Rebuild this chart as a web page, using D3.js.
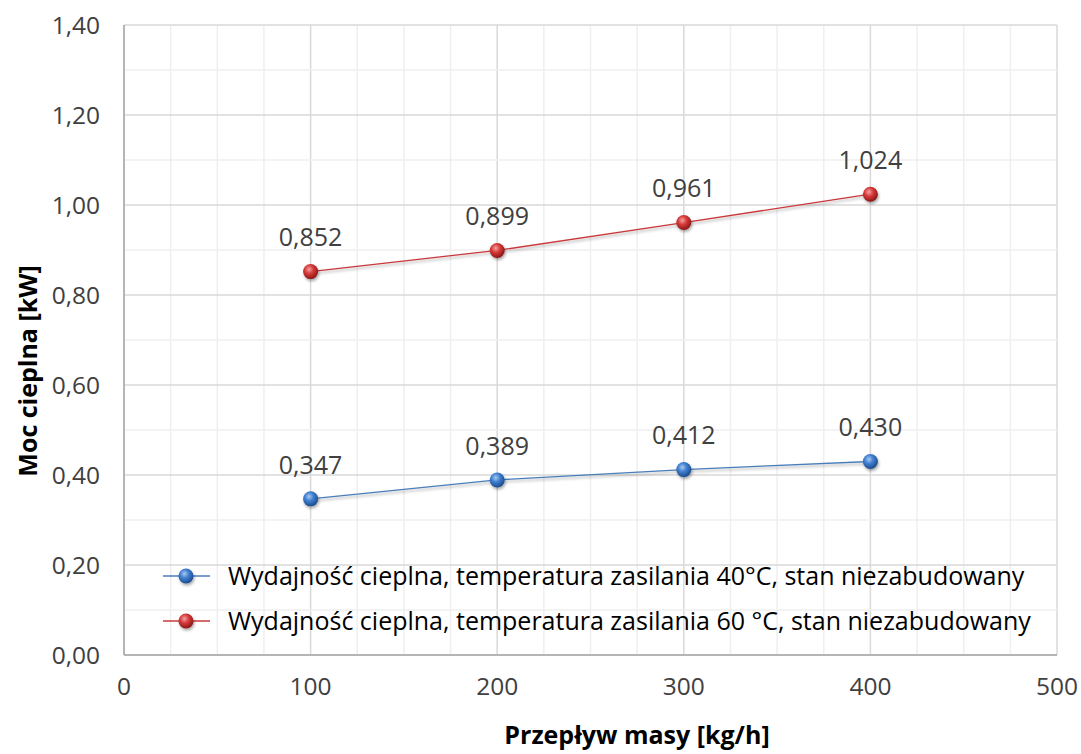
<!DOCTYPE html>
<html><head><meta charset="utf-8">
<script src="https://cdn.jsdelivr.net/npm/d3@7"></script>
<style>
body{margin:0;background:#fff;}
svg{display:block;font-family:"Open Sans","Noto Sans",sans-serif;}
</style></head>
<body><svg id="c" width="1081" height="754"></svg>
<script>
const xValues = [100, 200, 300, 400];
const series40 = [0.347, 0.389, 0.412, 0.430];
const series60 = [0.852, 0.899, 0.961, 1.024];
const seriesNames = [
  "Wydajność cieplna, temperatura zasilania 40°C, stan niezabudowany",
  "Wydajność cieplna, temperatura zasilania 60 °C, stan niezabudowany"
];
const xTicks = [0, 100, 200, 300, 400, 500];
const yTicks = [0, 0.2, 0.4, 0.6, 0.8, 1.0, 1.2, 1.4];
const xTitle = "Przepływ masy [kg/h]";
const yTitle = "Moc cieplna [kW]";

const svg = d3.select("#c");
const L = 124, R = 1057, T = 25, B = 655;
const x = d3.scaleLinear().domain([0, 500]).range([L, R]);
const y = d3.scaleLinear().domain([0, 1.4]).range([B, T]);
const fmt = d => d3.format(".2f")(d).replace(".", ",");
const fmt3 = d => d3.format(".3f")(d).replace(".", ",");

const defs = svg.append("defs");
function grad(id, light, mid, dark) {
  const g = defs.append("radialGradient").attr("id", id).attr("cx", "40%").attr("cy", "35%").attr("r", "65%");
  g.append("stop").attr("offset", "0%").attr("stop-color", light);
  g.append("stop").attr("offset", "45%").attr("stop-color", mid);
  g.append("stop").attr("offset", "100%").attr("stop-color", dark);
}
grad("gb", "#a9c8f0", "#3f7fd0", "#1d4c8c");
grad("gr", "#f5a0a0", "#d63a3a", "#8c1717");
const sh = defs.append("filter").attr("id", "sh").attr("x", "-20%").attr("y", "-50%").attr("width", "140%").attr("height", "200%");
sh.append("feGaussianBlur").attr("in", "SourceAlpha").attr("stdDeviation", 1.5);
sh.append("feOffset").attr("dx", 1).attr("dy", 2).attr("result", "b");
sh.append("feComponentTransfer").append("feFuncA").attr("type", "linear").attr("slope", 0.35);
const mg = sh.append("feMerge"); mg.append("feMergeNode"); mg.append("feMergeNode").attr("in", "SourceGraphic");

// grid
const minorX = d3.range(0, 501, 25), minorY = d3.range(0, 1.401, 0.1);
svg.append("g").selectAll("line").data(minorX).join("line")
  .attr("x1", d => x(d)).attr("x2", d => x(d)).attr("y1", T).attr("y2", B)
  .attr("stroke", d => d % 100 === 0 ? "#d9d9d9" : "#efefef").attr("stroke-width", 1.5);
svg.append("g").selectAll("line").data(minorY).join("line")
  .attr("x1", L).attr("x2", R).attr("y1", d => y(d)).attr("y2", d => y(d))
  .attr("stroke", (d, i) => i % 2 === 0 ? "#d9d9d9" : "#efefef").attr("stroke-width", 1.5);
// axes lines
svg.append("line").attr("x1", L).attr("x2", L).attr("y1", T).attr("y2", B).attr("stroke", "#a6a6a6").attr("stroke-width", 1.5);
svg.append("line").attr("x1", L).attr("x2", R).attr("y1", B).attr("y2", B).attr("stroke", "#a6a6a6").attr("stroke-width", 1.5);

// tick labels
svg.append("g").selectAll("text").data(yTicks).join("text")
  .attr("x", 100).attr("y", d => y(d)).attr("dy", "0.35em").attr("text-anchor", "end")
  .attr("font-size", 24.5).attr("fill", "#404040").text(fmt);
svg.append("g").selectAll("text").data(xTicks).join("text")
  .attr("x", d => x(d)).attr("y", 686).attr("dy", "0.35em").attr("text-anchor", "middle")
  .attr("font-size", 24.5).attr("fill", "#404040").text(d => d);

// titles
svg.append("text").attr("x", 637).attr("y", 744).attr("text-anchor", "middle")
  .attr("font-size", 25).attr("font-weight", "bold").attr("fill", "#000").text(xTitle);
svg.append("text").attr("transform", "translate(37,371) rotate(-90)").attr("text-anchor", "middle")
  .attr("font-size", 25).attr("font-weight", "bold").attr("fill", "#000").text(yTitle);

// series
const series = [
  {vals: series40, line: "#4a7ebb", fill: "url(#gb)"},
  {vals: series60, line: "#c9393b", fill: "url(#gr)"}
];
const line = d3.line().x(d => x(d[0])).y(d => y(d[1]));
series.forEach(s => {
  const pts = xValues.map((v, i) => [v, s.vals[i]]);
  svg.append("path").datum(pts).attr("d", line).attr("fill", "none")
    .attr("stroke", s.line).attr("stroke-width", 1.3).attr("filter", "url(#sh)");
  svg.append("g").selectAll("circle").data(pts).join("circle")
    .attr("cx", d => x(d[0])).attr("cy", d => y(d[1])).attr("r", 7.5)
    .attr("fill", s.fill).attr("filter", "url(#sh)");
  svg.append("g").selectAll("text").data(pts).join("text")
    .attr("x", d => x(d[0])).attr("y", d => y(d[1]) - 34).attr("dy", "0.35em")
    .attr("text-anchor", "middle").attr("font-size", 25).attr("fill", "#404040")
    .text(d => fmt3(d[1]));
});

// legend
const lg = svg.append("g");
[0, 1].forEach(i => {
  const yy = 576 + i * 45;
  lg.append("line").attr("x1", 163).attr("x2", 210).attr("y1", yy).attr("y2", yy)
    .attr("stroke", series[i].line).attr("stroke-width", 1.3);
  lg.append("circle").attr("cx", 186).attr("cy", yy).attr("r", 7.5).attr("fill", series[i].fill).attr("filter", "url(#sh)");
  lg.append("text").attr("x", 228).attr("y", yy).attr("dy", "0.35em")
    .attr("font-size", 25).attr("fill", "#000").text(seriesNames[i]);
});
</script></body></html>
